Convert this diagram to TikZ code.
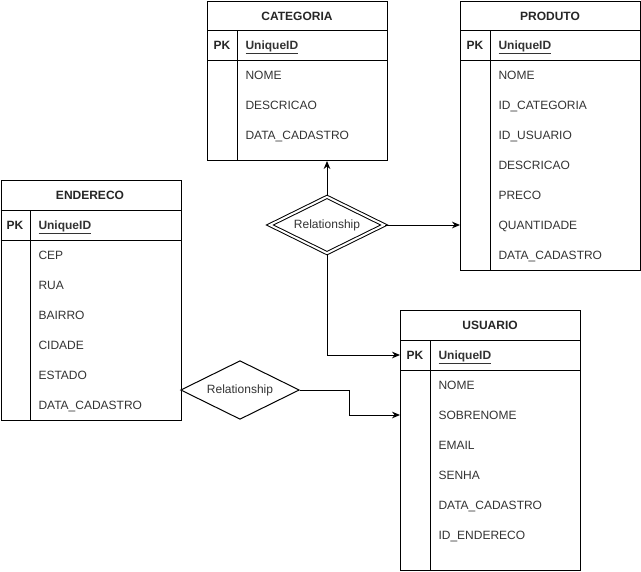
\documentclass[tikz,border=0pt]{standalone}
\usepackage{fontspec}
\setmainfont{Liberation Sans}
\usetikzlibrary{shapes.geometric,arrows.meta}

\tikzset{
  tabela/.style={draw, anchor=north west, inner sep=0pt, minimum width=135pt},
  titulo/.style={font=\fontsize{9}{11}\selectfont\bfseries, text=black!85},
  chave/.style={font=\fontsize{9}{11}\selectfont\bfseries, text=black!85},
  campo/.style={anchor=west, inner sep=0pt, text height=8pt, text depth=1.5pt,
    font=\fontsize{9}{11}\selectfont, text=black!80},
  relacao/.style={draw, diamond, aspect=2, inner sep=0pt, minimum width=89pt, minimum height=44pt,
    font=\fontsize{9}{11}\selectfont, text=black!80, fill=white},
  seta/.style={-{Stealth[length=6pt,width=5pt]}, line width=0.75pt},
}

\begin{document}
\begin{tikzpicture}[x=0.75pt, y=-0.75pt, line width=0.75pt]
\useasboundingbox (0,0) rectangle (641,571);
%----------------------------------------
% CATEGORIA
\node[tabela, minimum height=119.25pt] (cat) at (207,1) {};
\draw (207,30) -- (387,30);
\draw (207,60) -- (387,60);
\draw (237,30) -- (237,160);
\node[titulo] (catTit) at (297,16) {CATEGORIA};
\node[chave] (catPk) at (222,45) {PK};
\node[campo, font=\fontsize{9}{11}\selectfont\bfseries] (catId) at (245,45) {\underline{UniqueID}};
\node[campo] (catNome) at (245,75) {NOME};
\node[campo] (catDesc) at (245,105) {DESCRICAO};
\node[campo] (catData) at (245,135) {DATA\_CADASTRO};
%----------------------------------------
% PRODUTO
\node[tabela, minimum height=201.75pt] (prod) at (460,1) {};
\draw (460,30) -- (640,30);
\draw (460,60) -- (640,60);
\draw (490,30) -- (490,270);
\node[titulo] (prodTit) at (550,16) {PRODUTO};
\node[chave] (prodPk) at (475,45) {PK};
\node[campo, font=\fontsize{9}{11}\selectfont\bfseries] (prodId) at (498,45) {\underline{UniqueID}};
\node[campo] (prodNome) at (498,75) {NOME};
\node[campo] (prodCat) at (498,105) {ID\_CATEGORIA};
\node[campo] (prodUsu) at (498,135) {ID\_USUARIO};
\node[campo] (prodDesc) at (498,165) {DESCRICAO};
\node[campo] (prodPreco) at (498,195) {PRECO};
\node[campo] (prodQtd) at (498,225) {QUANTIDADE};
\node[campo] (prodData) at (498,255) {DATA\_CADASTRO};
%----------------------------------------
% ENDERECO
\node[tabela, minimum height=180pt] (end) at (0.5,180) {};
\draw (0.5,210) -- (180.5,210);
\draw (0.5,240) -- (180.5,240);
\draw (30,210) -- (30,420);
\node[titulo] (endTit) at (90,195) {ENDERECO};
\node[chave] (endPk) at (15,225) {PK};
\node[campo, font=\fontsize{9}{11}\selectfont\bfseries] (endId) at (38,225) {\underline{UniqueID}};
\node[campo] (endCep) at (38,255) {CEP};
\node[campo] (endRua) at (38,285) {RUA};
\node[campo] (endBairro) at (38,315) {BAIRRO};
\node[campo] (endCidade) at (38,345) {CIDADE};
\node[campo] (endEstado) at (38,375) {ESTADO};
\node[campo] (endData) at (38,405) {DATA\_CADASTRO};
%----------------------------------------
% USUARIO
\node[tabela, minimum height=195pt] (usu) at (400,310) {};
\draw (400,340) -- (580,340);
\draw (400,370) -- (580,370);
\draw (430,340) -- (430,570);
\node[titulo] (usuTit) at (490,325) {USUARIO};
\node[chave] (usuPk) at (415,355) {PK};
\node[campo, font=\fontsize{9}{11}\selectfont\bfseries] (usuId) at (438,355) {\underline{UniqueID}};
\node[campo] (usuNome) at (438,385) {NOME};
\node[campo] (usuSob) at (438,415) {SOBRENOME};
\node[campo] (usuEmail) at (438,445) {EMAIL};
\node[campo] (usuSenha) at (438,475) {SENHA};
\node[campo] (usuData) at (438,505) {DATA\_CADASTRO};
\node[campo] (usuEnd) at (438,535) {ID\_ENDERECO};
%----------------------------------------
% relacionamentos
\node[relacao, double, double distance=1.5pt, minimum width=86pt, minimum height=42.5pt] (rel1) at (327,225) {Relationship};
\node[relacao] (rel2) at (240,390) {Relationship};
%----------------------------------------
\draw[seta] (rel1.north) -- (rel1.north |- cat.south);
\draw[seta] (rel1.east) -- (prod.west |- rel1.east);
\draw[seta] (rel1.south) |- (usu.west |- usuPk);
\draw[seta] (rel2.east) -- ++(50,0) |- (usu.west |- usuSob);
\end{tikzpicture}
\end{document}
